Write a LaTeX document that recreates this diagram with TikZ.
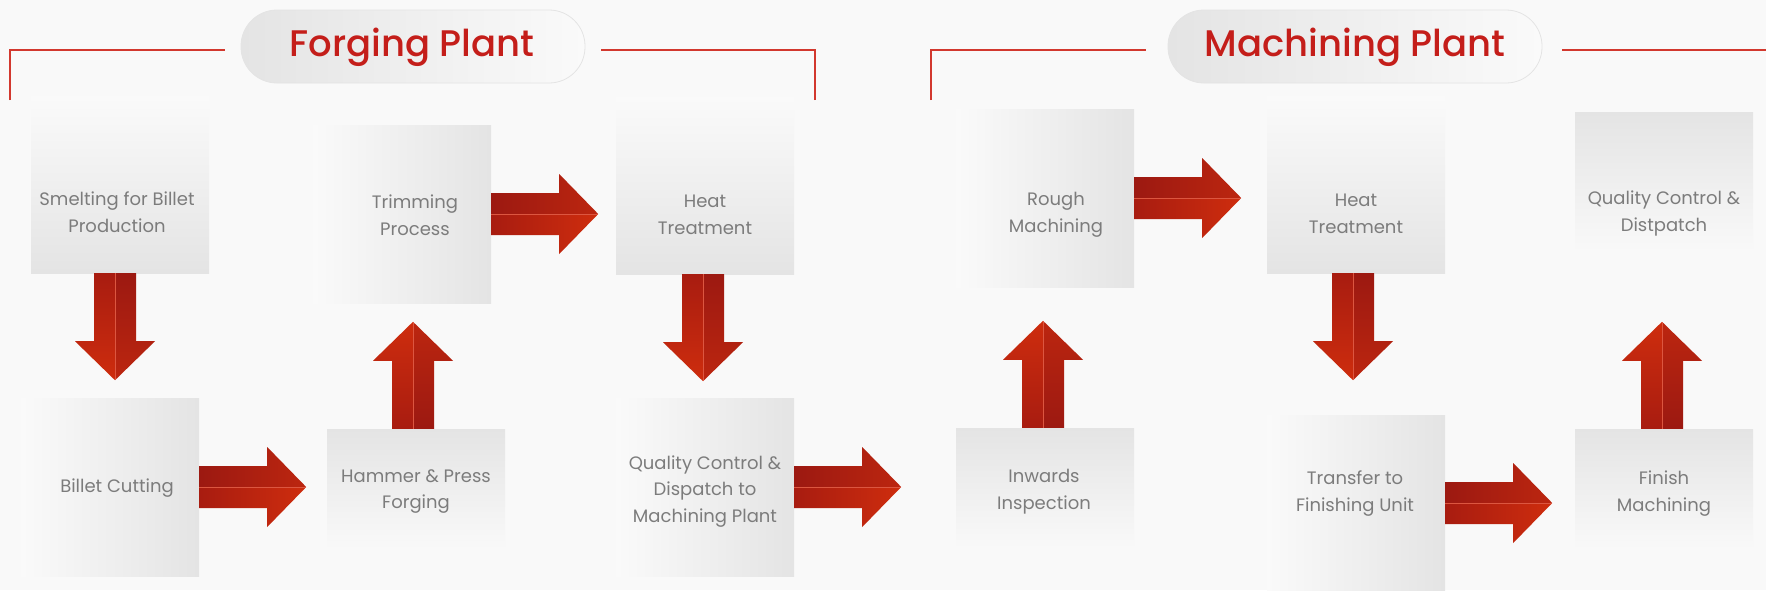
\documentclass[tikz,border=0pt]{standalone}
\usepackage{fontspec}
\setmainfont{Poppins}
\newfontfamily\titlefont{Poppins Medium}

\definecolor{pagebg}{HTML}{F9F9F9}
\definecolor{titlered}{HTML}{C41E1A}
\definecolor{rulered}{HTML}{D2382E}
\definecolor{labelgray}{HTML}{7C7C7C}
\definecolor{boxlight}{HTML}{FAFAFA}
\definecolor{boxdark}{HTML}{E4E4E4}
\definecolor{pillleft}{HTML}{E4E4E4}
\definecolor{pillright}{HTML}{FAFAFA}
\definecolor{arrdark}{HTML}{9C1911}
\definecolor{arrdarktoo}{HTML}{A81C10}
\definecolor{arrmid}{HTML}{BC2610}
\definecolor{arrbright}{HTML}{CE2D0E}
\definecolor{arrseam}{HTML}{DC5640}

% big two-tone arrow: #1 start, #2 angle, #3 and #4 shading of the halves
\newcommand\flowarrow[4]{%
  \begin{scope}[shift={(#1)},rotate=#2]
    \shade[#3] (0,0) -- (0,-21) -- (68,-21) -- (68,-40) -- (107,0) -- cycle;
    \shade[#4] (0,0) -- (0,21) -- (68,21) -- (68,40) -- (107,0) -- cycle;
    \draw[arrowseam] (0,0) -- (107,0);
  \end{scope}}

\begin{document}
\begin{tikzpicture}[x=1pt,y=-1pt,
    stepbox/.style={rectangle,inner sep=0pt,minimum width=178pt},
    faderight/.style={left color=boxlight,right color=boxdark},
    fadedown/.style={top color=boxlight,bottom color=boxdark},
    fadeup/.style={top color=boxdark,bottom color=pagebg},
    steplabel/.style={align=center,text=labelgray,
      font=\fontsize{18}{26.7}\selectfont},
    pill/.style={rounded corners=36pt,draw=boxdark,line width=0.8pt,
      left color=pillleft,right color=pillright,minimum height=73pt},
    plantname/.style={anchor=base,text=titlered,
      font=\titlefont\fontsize{37}{40}\selectfont},
    bracket/.style={rulered,line width=1.1pt},
    arrowseam/.style={arrseam,line width=0.7pt},
    toright/.style={left color=arrdark,right color=arrmid},
    torighttoo/.style={left color=arrdarktoo,right color=arrbright},
  ]
    \useasboundingbox (0,0) rectangle (1766,590);
    \fill[pagebg] (0,0) rectangle (1766,590);

    % plant headings
    \node[pill,minimum width=344pt] (forgepill) at (413,46.5) {};
    \node[plantname] (forgetitle) at (412,56) {Forging Plant};
    \node[pill,minimum width=374pt] (machpill) at (1355,46.5) {};
    \node[plantname] (machtitle) at (1355,56) {Machining Plant};

    \coordinate (forgeL) at (10,100);
    \coordinate (forgeR) at (815,100);
    \coordinate (machL) at (931,100);
    \coordinate (machR) at (1766,50);
    \draw[bracket] (forgeL) |- ([xshift=-16pt]forgepill.west |- 0,50);
    \draw[bracket] (forgeR) |- ([xshift=16pt]forgepill.east |- 0,50);
    \draw[bracket] (machL) |- ([xshift=-22pt]machpill.west |- 0,50);
    \draw[bracket] (machR) -- ([xshift=20pt]machpill.east |- 0,50);

    % forging plant boxes
    \node[stepbox,fadedown,minimum height=177pt] (smelt) at (120,184.5) {};
    \node[stepbox,faderight,minimum height=178pt] (trim) at (402,214) {};
    \node[stepbox,fadedown,minimum height=177pt] (heatA) at (705,185.5) {};
    \node[stepbox,faderight,minimum height=178pt] (billet) at (110,487) {};
    \node[stepbox,fadeup,minimum height=120pt] (hammer) at (416,489) {};
    \node[stepbox,faderight,minimum height=178pt] (dispatch) at (705,487) {};

    % machining plant boxes
    \node[stepbox,faderight,minimum height=178pt] (rough) at (1045,198) {};
    \node[stepbox,fadedown,minimum height=177pt] (heatB) at (1356,184.5) {};
    \node[stepbox,fadeup,minimum height=140pt] (finalqc) at (1664,182) {};
    \node[stepbox,fadeup,minimum height=120pt] (inwards) at (1045,488) {};
    \node[stepbox,faderight,minimum height=176pt] (transfer) at (1356,503) {};
    \node[stepbox,fadeup,minimum height=120pt] (finish) at (1664,489) {};

    % labels
    \node[steplabel] (smelt-t) at (117,212) {Smelting for Billet\\Production};
    \node[steplabel] (trim-t) at (415,215) {Trimming\\Process};
    \node[steplabel] (heatA-t) at (705,214.5) {Heat\\Treatment};
    \node[steplabel] (billet-t) at (117,488.5) {Billet Cutting};
    \node[steplabel] (hammer-t) at (416,491.5) {Hammer \& Press\\Forging};
    \node[steplabel] (dispatch-t) at (705,491.5) {Quality Control \&\\Dispatch to\\Machining Plant};
    \node[steplabel] (rough-t) at (1056,215) {Rough\\Machining};
    \node[steplabel] (heatB-t) at (1356,213.5) {Heat\\Treatment};
    \node[steplabel] (finalqc-t) at (1664,213.5) {Quality Control \&\\Distpatch};
    \node[steplabel] (inwards-t) at (1044,491.5) {Inwards\\Inspection};
    \node[steplabel] (transfer-t) at (1355,493.5) {Transfer to\\Finishing Unit};
    \node[steplabel] (finish-t) at (1664,493.5) {Finish\\Machining};

    % flow arrows
    \flowarrow{[xshift=-5pt]smelt.south}{-90}{top color=arrdark,bottom color=arrmid}{top color=arrdarktoo,bottom color=arrbright}
    \flowarrow{billet.east}{0}{toright}{torighttoo}
    \flowarrow{[xshift=-3pt]hammer.north}{90}{top color=arrbright,bottom color=arrdarktoo}{top color=arrmid,bottom color=arrdark}
    \flowarrow{trim.east}{0}{toright}{torighttoo}
    \flowarrow{[xshift=-2pt]heatA.south}{-90}{top color=arrdark,bottom color=arrmid}{top color=arrdarktoo,bottom color=arrbright}
    \flowarrow{dispatch.east}{0}{toright}{torighttoo}
    \flowarrow{[xshift=-2pt]inwards.north}{90}{top color=arrbright,bottom color=arrdarktoo}{top color=arrmid,bottom color=arrdark}
    \flowarrow{rough.east}{0}{toright}{torighttoo}
    \flowarrow{[xshift=-3pt]heatB.south}{-90}{top color=arrdark,bottom color=arrmid}{top color=arrdarktoo,bottom color=arrbright}
    \flowarrow{transfer.east}{0}{toright}{torighttoo}
    \flowarrow{[xshift=-2pt]finish.north}{90}{top color=arrbright,bottom color=arrdarktoo}{top color=arrmid,bottom color=arrdark}
\end{tikzpicture}
\end{document}
